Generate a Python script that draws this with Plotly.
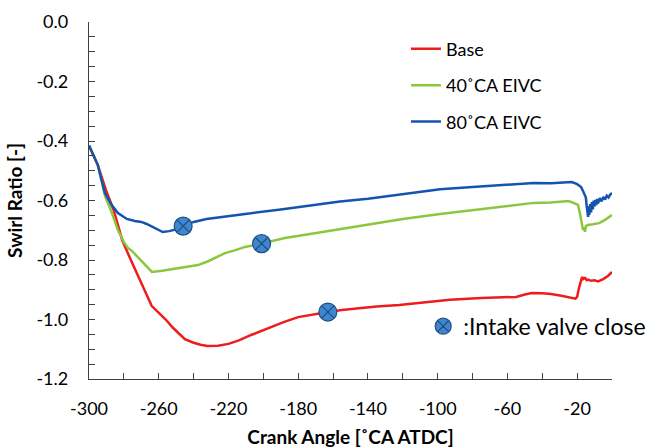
import plotly.graph_objects as go

# ---------------- data ----------------
base_x = [-300, -295, -290, -286, -283, -281, -276, -272, -268, -264, -260.4, -256, -252, -248, -245,
          -240, -236, -232, -226, -220, -214, -207, -200, -195, -188, -180, -172, -166, -163, -155,
          -145, -135, -122, -110, -93, -75, -60, -55, -50, -46, -40, -35, -29, -25, -23, -21, -20,
          -19.5, -19, -18.5, -18, -17.2, -16.5, -15.5, -14.5, -13.7, -12, -10, -8, -5, -2, 0]
base_y = [-0.415, -0.48, -0.57, -0.63, -0.69, -0.733, -0.80, -0.85, -0.90, -0.955, -0.975, -1.0, -1.027,
          -1.05, -1.066, -1.078, -1.085, -1.089, -1.088, -1.082, -1.07, -1.052, -1.035, -1.025, -1.008,
          -0.992, -0.983, -0.978, -0.975, -0.968, -0.962, -0.956, -0.951, -0.945, -0.934, -0.928, -0.925,
          -0.924, -0.916, -0.911, -0.912, -0.914, -0.92, -0.926, -0.929, -0.93, -0.924, -0.905, -0.895,
          -0.885, -0.87, -0.857, -0.864, -0.86, -0.868, -0.866, -0.87, -0.868, -0.872, -0.864, -0.852, -0.84]

eivc40_x = [-300, -295, -290.8, -287, -283.4, -280, -277.6, -275.3, -272, -268, -263.9, -258, -250.7,
            -244, -237.5, -232, -226, -222, -216, -210.5, -205, -201, -195, -187.6, -175, -158, -140,
            -120, -98.6, -80, -60, -45, -35, -27, -25, -22, -19.5, -18.5, -17.7, -17.2, -16.6, -16,
            -15.5, -15, -13.7, -11, -7.4, -4, 0]
eivc40_y = [-0.415, -0.48, -0.585, -0.64, -0.699, -0.74, -0.76, -0.77, -0.79, -0.815, -0.840, -0.836,
            -0.829, -0.824, -0.817, -0.805, -0.788, -0.777, -0.767, -0.756, -0.75, -0.745, -0.737,
            -0.726, -0.714, -0.698, -0.683, -0.662, -0.645, -0.632, -0.62, -0.608, -0.607, -0.602,
            -0.602, -0.608, -0.615, -0.64, -0.672, -0.69, -0.699, -0.69, -0.705, -0.686, -0.682,
            -0.68, -0.676, -0.665, -0.649]

eivc80_x = [-300, -295, -290.9, -287, -283.4, -278.3, -273.7, -270, -266.9, -262.3, -257.7, -254, -250,
            -246, -240, -232.6, -224, -216, -206, -190, -175, -156, -140, -120, -98.6, -80, -60, -45,
            -35, -27, -23, -20, -17.7, -16.5, -15, -14.5, -14, -13.7, -13.3, -13, -12.5, -12, -11.5,
            -11, -10.5, -10, -9.5, -9, -8.5, -8, -7, -6, -5, -4, -3, -2, -1, 0]
eivc80_y = [-0.415, -0.48, -0.575, -0.615, -0.642, -0.662, -0.669, -0.672, -0.679, -0.692, -0.706,
            -0.703, -0.697, -0.686, -0.672, -0.662, -0.655, -0.649, -0.642, -0.63, -0.618, -0.603,
            -0.594, -0.578, -0.562, -0.555, -0.548, -0.541, -0.542, -0.538, -0.538, -0.545, -0.555,
            -0.57, -0.59, -0.62, -0.64, -0.655, -0.62, -0.648, -0.612, -0.64, -0.605, -0.63, -0.6,
            -0.62, -0.598, -0.615, -0.595, -0.61, -0.592, -0.603, -0.588, -0.597, -0.584, -0.59,
            -0.58, -0.575]

ivc_x = [-163, -201, -246]
ivc_y = [-0.975, -0.745, -0.686]

x_tickvals = [-300, -260, -220, -180, -140, -100, -60, -20]
x_ticktext = ["-300", "-260", "-220", "-180", "-140", "-100", "-60", "-20"]
y_tickvals = [0.0, -0.2, -0.4, -0.6, -0.8, -1.0, -1.2]
y_ticktext = ["0.0", "-0.2", "-0.4", "-0.6", "-0.8", "-1.0", "-1.2"]

series_names = ["Base", "40˚CA EIVC", "80˚CA EIVC"]
series_colors = ["#ee1c1c", "#8cc63f", "#1454b0"]

FONT = "Lato"

fig = go.Figure()
for i, (xs, ys) in enumerate([(base_x, base_y), (eivc40_x, eivc40_y), (eivc80_x, eivc80_y)]):
    fig.add_trace(go.Scatter(
        x=xs, y=ys, mode="lines", name=series_names[i],
        line=dict(color=series_colors[i], width=2.5),
        legendgroup=f"g{i}", legend="legend",
    ))

fig.add_trace(go.Scatter(
    x=ivc_x, y=ivc_y, mode="markers", name=":Intake valve close",
    marker=dict(symbol="circle-x", size=18, color="#3f87cc",
                line=dict(color="#1f4f86", width=1.2)),
    legend="legend2",
))

axis_color = "#404040"
fig.update_layout(
    width=646, height=448,
    margin=dict(l=89, r=34, t=22, b=69, autoexpand=False),
    paper_bgcolor="white", plot_bgcolor="white",
    font=dict(family=FONT, size=18, color="#000000"),
    showlegend=True,
    legend=dict(
        x=0.606, y=0.976, xanchor="left", yanchor="top",
        bgcolor="rgba(0,0,0,0)", font=dict(family=FONT, size=18, color="#000"),
        tracegroupgap=10, traceorder="grouped", itemwidth=30,
    ),
    legend2=dict(
        x=0.639, y=0.208, xanchor="left", yanchor="top",
        bgcolor="rgba(0,0,0,0)", font=dict(family=FONT, size=23, color="#000"),
        itemwidth=30,
    ),
    xaxis=dict(
        range=[-300, 0], tickvals=x_tickvals, ticktext=x_ticktext, showgrid=False, zeroline=False,
        showline=True, linecolor=axis_color, linewidth=1.3,
        ticks="inside", ticklen=6, tickcolor=axis_color, tickwidth=1.3,
        minor=dict(dtick=20, tick0=-300, ticks="inside", ticklen=6, tickcolor=axis_color, tickwidth=1.3),
        tickfont=dict(family=FONT, size=18, color="#000"),
        ticklabelstandoff=13,
        title=dict(text="<b>Crank Angle [˚CA ATDC]</b>", font=dict(family=FONT, size=19, color="#000"),
                   standoff=13),
    ),
    yaxis=dict(
        range=[-1.2, 0], tickvals=y_tickvals, ticktext=y_ticktext, showgrid=False, zeroline=False,
        showline=True, linecolor=axis_color, linewidth=1.3,
        ticks="inside", ticklen=6, tickcolor=axis_color, tickwidth=1.3,
        minor=dict(dtick=0.05, tick0=0, ticks="inside", ticklen=6, tickcolor=axis_color, tickwidth=1.3),
        tickfont=dict(family=FONT, size=18, color="#000"),
        ticklabelstandoff=16,
        title=dict(text="<b>Swirl Ratio [-]</b>", font=dict(family=FONT, size=19, color="#000"),
                   standoff=8),
    ),
)

fig.write_html("out.html")
